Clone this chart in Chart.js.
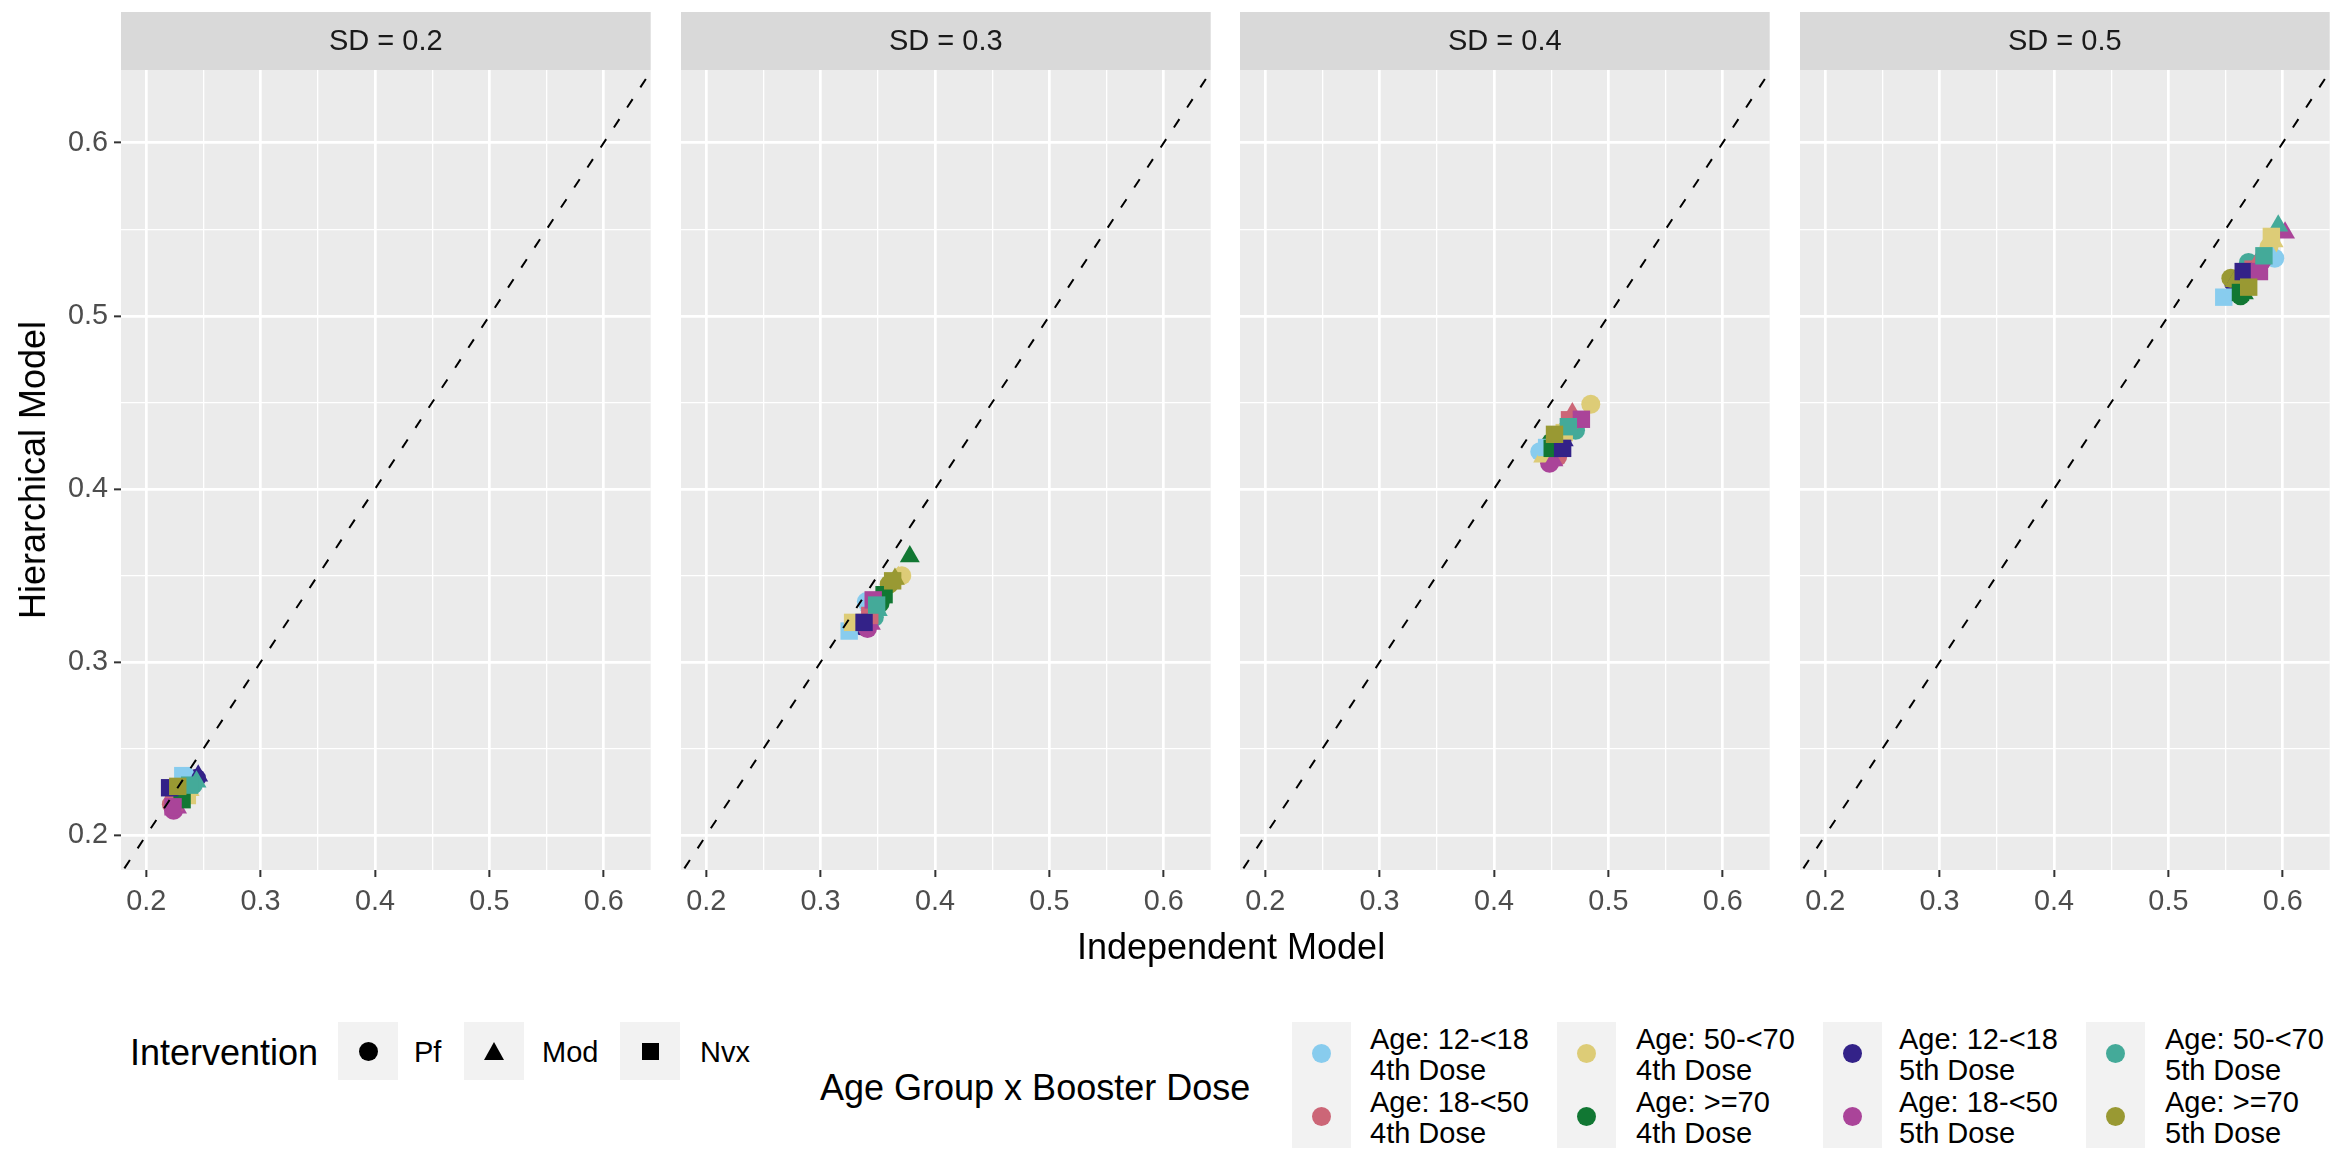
<!DOCTYPE html>
<html><head><meta charset="utf-8">
<script src="https://cdn.jsdelivr.net/npm/chart.js@4.4.1/dist/chart.umd.min.js"></script>
<style>
html,body{margin:0;padding:0;background:#fff;width:2341px;height:1150px;overflow:hidden;position:relative;font-family:"Liberation Sans",Arial,sans-serif;}
canvas{position:absolute;top:0;}
.t{position:absolute;white-space:nowrap;line-height:1;color:#000;}
.box{position:absolute;background:#F2F2F2;}
</style></head><body>
<div id="root"></div>
<script>
// ---------------- data ----------------
const sdLabels = ['SD = 0.2', 'SD = 0.3', 'SD = 0.4', 'SD = 0.5'];
const interventions = ['Pf', 'Mod', 'Nvx'];
const groupLabels = [
  ['Age: 12-<18', '4th Dose'], ['Age: 18-<50', '4th Dose'],
  ['Age: 50-<70', '4th Dose'], ['Age: >=70', '4th Dose'],
  ['Age: 12-<18', '5th Dose'], ['Age: 18-<50', '5th Dose'],
  ['Age: 50-<70', '5th Dose'], ['Age: >=70', '5th Dose']
];
const groupColors = ['#88CCEE', '#CC6677', '#DDCC77', '#117733', '#332288', '#AA4499', '#44AA99', '#999933'];
const majorTicks = [0.2, 0.3, 0.4, 0.5, 0.6];
const minorTicks = [0.25, 0.35, 0.45, 0.55];
const tickLabels = ['0.2', '0.3', '0.4', '0.5', '0.6'];
const refLine = [0.1, 0.7];   // y = x reference line

// values ordered group-major: [g0 Pf, g0 Mod, g0 Nvx, g1 Pf, ...]
const indep02 = [0.236,0.240,0.232, 0.222,0.226,0.224, 0.234,0.238,0.236, 0.229,0.233,0.2314,
                 0.244,0.2455,0.2205, 0.224,0.227,0.2235, 0.241,0.244,0.238, 0.229,0.231,0.2276];
const hier02  = [0.230,0.232,0.2345, 0.218,0.221,0.219, 0.224,0.226,0.223, 0.222,0.224,0.2206,
                 0.233,0.2345,0.2275, 0.2145,0.216,0.2165, 0.229,0.231,0.229, 0.226,0.227,0.2283];
const indep03 = [0.340,0.343,0.325, 0.345,0.348,0.343, 0.371,0.368,0.328, 0.352,0.378,0.3555,
                 0.336,0.339,0.338, 0.341,0.344,0.346, 0.347,0.350,0.349, 0.360,0.365,0.363];
const hier03  = [0.335,0.333,0.318, 0.330,0.331,0.327, 0.350,0.349,0.323, 0.334,0.361,0.339,
                 0.321,0.324,0.323, 0.3195,0.322,0.336, 0.326,0.330,0.333, 0.345,0.348,0.347];
const indep04 = [0.440,0.447,0.446, 0.4557,0.4685,0.466, 0.4846,0.443,0.4614, 0.450,0.453,0.4509,
                 0.458,0.461,0.460, 0.4486,0.452,0.4764, 0.4713,0.468,0.465, 0.455,0.458,0.4529];
const hier04  = [0.4216,0.421,0.424, 0.4187,0.4437,0.440, 0.449,0.4187,0.4326, 0.427,0.425,0.4235,
                 0.425,0.428,0.4235, 0.4149,0.4165,0.4403, 0.434,0.437,0.436, 0.430,0.432,0.4316];
const indep05 = [0.593,0.590,0.5484, 0.575,0.578,0.574, 0.588,0.592,0.590, 0.5631,0.566,0.563,
                 0.557,0.560,0.5654, 0.582,0.602,0.5796, 0.570,0.596,0.5835, 0.5546,0.558,0.5702];
const hier05  = [0.5333,0.535,0.5108, 0.529,0.531,0.527, 0.540,0.543,0.5459, 0.5116,0.513,0.5135,
                 0.519,0.522,0.5256, 0.532,0.548,0.5256, 0.5308,0.552,0.5347, 0.5218,0.520,0.5166];
const panelX = [indep02, indep03, indep04, indep05];
const panelY = [hier02, hier03, hier04, hier05];

// ---------------- layout ----------------
const FONT = '"Liberation Sans", Arial, sans-serif';
const xMin = 0.178, xMax = 0.641, yMin = 0.180, yMax = 0.642;
const canvasLeft = [0, 560, 1119, 1679];
const CW = 663, CH = 940, AXW = 121, PTOP = 70, PBOT = 870;
const shapeStyle = ['circle', 'triangle', 'rect'];
const shapeRadius = [9.5, 11.5, 12.3];
const allTicks = majorTicks.concat(minorTicks).sort((a, b) => a - b);
const isMajor = v => majorTicks.some(m => Math.abs(m - v) < 1e-6);

const panelDecor = {
  id: 'panelDecor',
  beforeDraw(chart, args, opts) {
    const {ctx, chartArea: a} = chart;
    ctx.save();
    ctx.fillStyle = '#EBEBEB';
    ctx.fillRect(a.left, a.top, a.right - a.left, a.bottom - a.top);
    ctx.fillStyle = '#D9D9D9';
    ctx.fillRect(a.left, 12, a.right - a.left, a.top - 12);
    ctx.fillStyle = '#1A1A1A';
    ctx.font = '29px ' + FONT;
    ctx.textAlign = 'center';
    ctx.textBaseline = 'middle';
    ctx.fillText(opts.label, (a.left + a.right) / 2, (12 + a.top) / 2 + 1);
    ctx.restore();
  }
};

function scaleOpts(min, max, showLabels, isX) {
  return {
    type: 'linear', min, max,
    afterBuildTicks: s => { s.ticks = allTicks.map(v => ({value: v})); },
    afterFit: s => { if (isX) s.height = CH - PBOT; else s.width = AXW; },
    border: {display: false},
    grid: {
      color: '#FFFFFF',
      lineWidth: c => (c.tick && isMajor(c.tick.value)) ? 2.7 : 1.3,
      drawTicks: showLabels,
      tickLength: 7,
      tickWidth: 2,
      tickColor: c => (c.tick && isMajor(c.tick.value)) ? '#333333' : 'rgba(0,0,0,0)'
    },
    ticks: {
      display: showLabels,
      autoSkip: false, maxRotation: 0, minRotation: 0,
      padding: isX ? 8 : 6,
      color: '#4D4D4D',
      font: {family: FONT, size: 28.8},
      callback: v => { const i = majorTicks.findIndex(m => Math.abs(m - v) < 1e-6); return i >= 0 ? tickLabels[i] : ''; }
    }
  };
}

const root = document.getElementById('root');
sdLabels.forEach((lab, p) => {
  const cv = document.createElement('canvas');
  cv.width = CW; cv.height = CH;
  cv.style.left = canvasLeft[p] + 'px';
  cv.style.width = CW + 'px'; cv.style.height = CH + 'px';
  root.appendChild(cv);
  const datasets = interventions.map((iv, s) => ({
    type: 'scatter', label: iv,
    data: groupColors.map((c, g) => ({x: panelX[p][g * 3 + s], y: panelY[p][g * 3 + s]})),
    pointStyle: shapeStyle[s], pointRadius: shapeRadius[s], pointHoverRadius: shapeRadius[s],
    pointBackgroundColor: groupColors, pointBorderWidth: 0, pointBorderColor: 'rgba(0,0,0,0)',
    order: 3 - s, clip: false
  }));
  datasets.push({
    type: 'line', label: 'ref',
    data: refLine.map(v => ({x: v, y: v})),
    borderColor: '#000000', borderWidth: 2, borderDash: [10, 14],
    pointRadius: 0, fill: false, order: 0, clip: 0
  });
  new Chart(cv, {
    data: {datasets},
    options: {
      responsive: false, animation: false, devicePixelRatio: 1, events: [],
      layout: {padding: {top: PTOP, left: 0, right: 0, bottom: 0}},
      plugins: {legend: {display: false}, tooltip: {enabled: false}, title: {display: false}, panelDecor: {label: lab}},
      scales: {
        x: scaleOpts(xMin, xMax, true, true),
        y: scaleOpts(yMin, yMax, p === 0, false)
      }
    },
    plugins: [panelDecor]
  });
});

// ---------------- titles & legends (HTML text) ----------------
function addText(txt, left, cy, size, extra) {
  const d = document.createElement('div');
  d.className = 't';
  d.textContent = txt;
  d.style.left = left + 'px';
  d.style.top = cy + 'px';
  d.style.fontSize = size + 'px';
  d.style.transform = 'translateY(-50%)';
  if (extra) Object.assign(d.style, extra);
  document.body.appendChild(d);
  return d;
}
// axis titles
addText('Independent Model', 1231, 947, 36, {transform: 'translate(-50%,-50%)'});
addText('Hierarchical Model', 33, 470, 36, {transform: 'translate(-50%,-50%) rotate(-90deg)'});

// Intervention legend
addText('Intervention', 130, 1053, 36);
const ivBoxLeft = [338, 464, 620];
const ivTextLeft = [414, 542, 700];
interventions.forEach((iv, s) => {
  const b = document.createElement('div');
  b.className = 'box';
  Object.assign(b.style, {left: ivBoxLeft[s] + 'px', top: '1022px', width: '60px', height: '58px'});
  let shape;
  if (s === 0) shape = '<div style="position:absolute;left:20.5px;top:19.5px;width:19px;height:19px;border-radius:50%;background:#000"></div>';
  else if (s === 1) shape = '<svg style="position:absolute;left:19px;top:19px" width="22" height="20"><polygon points="11,1 21,19 1,19" fill="#000"/></svg>';
  else shape = '<div style="position:absolute;left:21.5px;top:20.5px;width:17px;height:17px;background:#000"></div>';
  b.innerHTML = shape;
  document.body.appendChild(b);
  addText(iv, ivTextLeft[s], 1052, 29);
});

// Age group legend
addText('Age Group x Booster Dose', 820, 1088, 36);
const colBoxLeft = [1292, 1557, 1823, 2086];
const colTextLeft = [1370, 1636, 1899, 2165];
const rowTop = [1022, 1085];
groupLabels.forEach((gl, g) => {
  const col = Math.floor(g / 2), row = g % 2;
  const b = document.createElement('div');
  b.className = 'box';
  Object.assign(b.style, {left: colBoxLeft[col] + 'px', top: rowTop[row] + 'px', width: '59px', height: '63px'});
  b.innerHTML = '<div style="position:absolute;left:20px;top:22px;width:19px;height:19px;border-radius:50%;background:' + groupColors[g] + '"></div>';
  document.body.appendChild(b);
  const d = addText('', colTextLeft[col], rowTop[row] + 33, 29, {lineHeight: '31px'});
  d.innerHTML = gl.map(s => s.replace(/</g, '&lt;').replace(/>/g, '&gt;')).join('<br>');
});
</script>
</body></html>
